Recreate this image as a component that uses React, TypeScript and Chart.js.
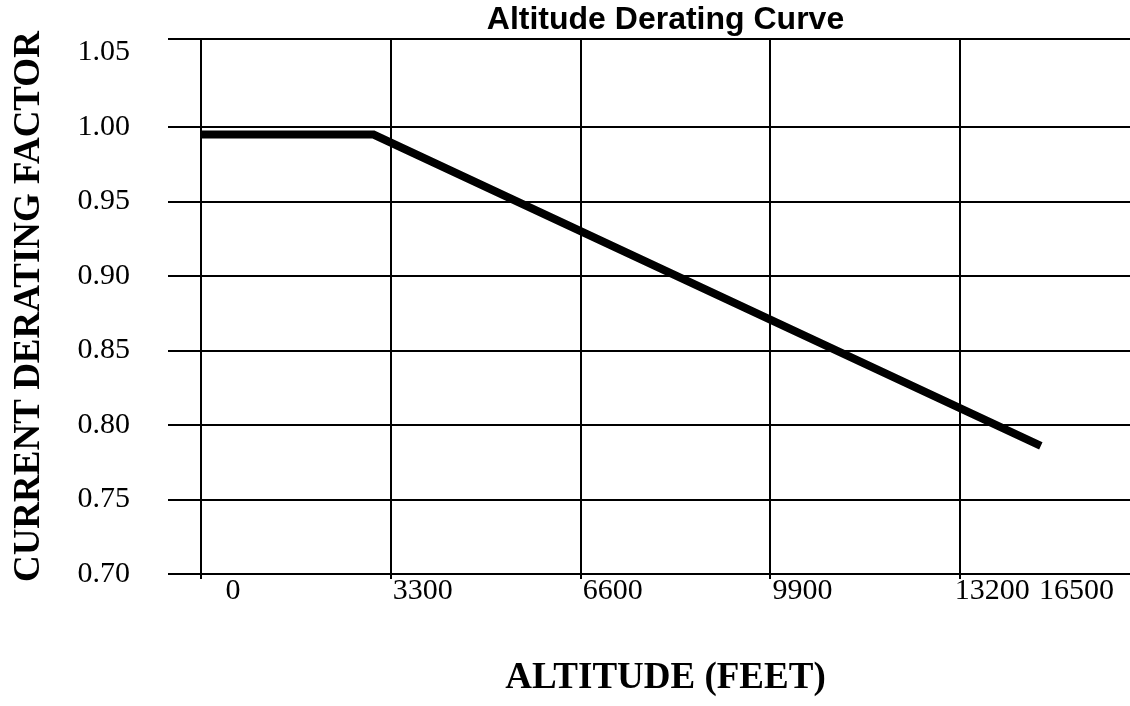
import React, { useEffect, useRef } from 'react';
import { Chart, registerables } from 'chart.js';

Chart.register(...registerables);

// ---- data ----
const altitudeFeet = [0, 3000, 14600];
const deratingFactor = [0.995, 0.995, 0.786];

// ---- axis ticks ----
const xTickValues = [0, 3300, 6600, 9900, 13200, 16500];
const yTickValues = [0.7, 0.75, 0.8, 0.85, 0.9, 0.95, 1.0, 1.05];
const X_MIN = 0;
const X_MAX = 16150;
const Y_MIN = 0.7;
const Y_MAX = 1.059;

// ---- texts ----
const chartTitle = 'Altitude Derating Curve';
const xAxisTitle = 'ALTITUDE (FEET)';
const yAxisTitle = 'CURRENT DERATING FACTOR';

const SERIF = '"Liberation Serif", "Times New Roman", serif';
const SANS = '"Liberation Sans", Arial, sans-serif';

const xTickLabelPlugin = {
  id: 'xTickLabels',
  afterDraw(chart: any) {
    const xs = chart.scales.x;
    const ctx = chart.ctx;
    ctx.save();
    ctx.font = `30px ${SERIF}`;
    ctx.fillStyle = '#000';
    ctx.textAlign = 'center';
    ctx.textBaseline = 'middle';
    const y = xs.top + 17.5;
    xTickValues.forEach((v) => {
      const text = String(v);
      const w = ctx.measureText(text).width;
      let px = xs.getPixelForValue(v) + 32;
      px = Math.min(px, chart.width - 16 - w / 2);
      ctx.fillText(text, px, y);
    });
    ctx.restore();
  },
};

export default function App() {
  const canvasRef = useRef<HTMLCanvasElement | null>(null);

  useEffect(() => {
    document.body.style.margin = '0';
    const canvas = canvasRef.current;
    if (!canvas) return;
    const chart = new Chart(canvas, {
      type: 'line',
      data: {
        datasets: [
          {
            data: altitudeFeet.map((x, i) => ({ x, y: deratingFactor[i] })),
            borderColor: '#000',
            borderWidth: 8,
            pointRadius: 0,
            tension: 0,
            fill: false,
            borderCapStyle: 'butt',
          },
        ],
      },
      options: {
        responsive: false,
        animation: false,
        devicePixelRatio: 1,
        layout: { padding: 0 },
        plugins: {
          legend: { display: false },
          tooltip: { enabled: false },
          title: {
            display: true,
            text: chartTitle,
            color: '#000',
            fullSize: false,
            font: { family: SANS, size: 32, weight: 'bold', lineHeight: 1.1 },
            padding: { top: 3, bottom: 1 },
          },
        },
        scales: {
          x: {
            type: 'linear',
            min: X_MIN,
            max: X_MAX,
            afterBuildTicks: (scale: any) => {
              scale.ticks = xTickValues.map((v) => ({ value: v }));
            },
            afterFit: (scale: any) => {
              scale.height = 132;
              scale.paddingLeft = 0;
              scale.paddingRight = 0;
            },
            grid: {
              color: '#000',
              lineWidth: 2,
              tickLength: 5,
              drawTicks: true,
            },
            border: { display: true, color: '#000', width: 2 },
            ticks: { display: false },
            title: {
              display: true,
              text: xAxisTitle,
              color: '#000',
              font: { family: SERIF, size: 37, weight: 'bold', lineHeight: 1.2 },
              padding: { top: 0, bottom: 5 },
            },
          },
          y: {
            type: 'linear',
            min: Y_MIN,
            max: Y_MAX,
            afterBuildTicks: (scale: any) => {
              scale.ticks = [...yTickValues, Y_MAX].map((v) => ({ value: v }));
            },
            afterFit: (scale: any) => {
              scale.width = 201;
              scale.paddingTop = 0;
              scale.paddingBottom = 0;
            },
            grid: {
              color: (ctx: any) => {
                const v = ctx.tick ? ctx.tick.value : 0;
                return v < Y_MAX && Y_MAX - v < 0.02 ? 'rgba(0,0,0,0)' : '#000';
              },
              lineWidth: 2,
              tickLength: 33,
            },
            border: { display: true, color: '#000', width: 2 },
            ticks: {
              color: '#000',
              padding: 38,
              font: { family: SERIF, size: 30 },
              callback: (value: any) =>
                yTickValues.some((t) => Math.abs(t - Number(value)) < 1e-9)
                  ? Number(value).toFixed(2)
                  : '',
            },
            title: {
              display: true,
              text: yAxisTitle,
              color: '#000',
              font: { family: SERIF, size: 37, weight: 'bold', lineHeight: 1.2 },
              padding: { top: 7, bottom: 0 },
            },
          },
        },
      },
      plugins: [xTickLabelPlugin],
    } as any);
    return () => chart.destroy();
  }, []);

  return (
    <div style={{ width: 1130, height: 706 }}>
      <canvas ref={canvasRef} width={1130} height={706} style={{ display: 'block' }} />
    </div>
  );
}
